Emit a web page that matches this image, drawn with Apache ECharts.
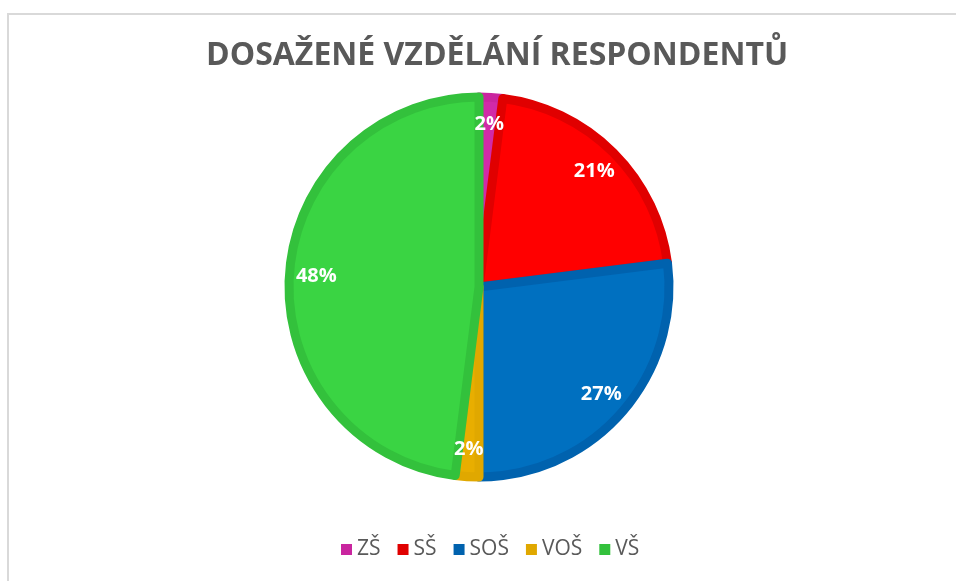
<!DOCTYPE html>
<html>
<head>
<meta charset="utf-8">
<script src="https://cdn.jsdelivr.net/npm/echarts@6/dist/echarts.min.js"></script>
<style>
  html, body { margin: 0; padding: 0; background: #fff; overflow: hidden; }
  #main { width: 956px; height: 581px; position: relative; }
  /* rámeček grafu jako v Excelu */
  .frame {
    position: absolute; left: 7px; top: 13px; width: 980px; height: 600px;
    border: 2px solid #d9d9d9; box-sizing: border-box; pointer-events: none;
  }
</style>
</head>
<body>
<div id="main"></div>
<div class="frame"></div>
<script>
// data
var categories = ["ZŠ", "SŠ", "SOŠ", "VOŠ", "VŠ"];
var values = [2, 21, 27, 2, 48];
var fillColors = ["#d12aa8", "#ff0000", "#0070c0", "#e8ae00", "#3ad443"];
var edgeColors = ["#c9259f", "#e00000", "#0062ae", "#e0a800", "#33c13c"];

var myChart = echarts.init(document.getElementById("main"));

var pieData = categories.map(function (name, i) {
  return {
    name: name,
    value: values[i],
    itemStyle: { color: fillColors[i], borderColor: edgeColors[i] }
  };
});

var labelData = categories.map(function (name, i) {
  return { name: name, value: values[i] };
});

var option = {
  animation: false,
  title: {
    text: "DOSAŽENÉ VZDĚLÁNÍ RESPONDENTŮ",
    left: 201,
    top: 35,
    textStyle: {
      fontFamily: "Open Sans",
      fontWeight: "bold",
      fontSize: 32,
      color: "#595959"
    }
  },
  legend: {
    bottom: 16,
    left: 336,
    icon: "rect",
    itemWidth: 11,
    itemHeight: 11,
    itemGap: 17,
    textStyle: { fontFamily: "Open Sans", fontSize: 21, color: "#595959" },
    data: categories.map(function (name, i) {
      return { name: name, itemStyle: { color: edgeColors[i], borderWidth: 0 } };
    })
  },
  series: [
    {
      type: "pie",
      center: [479, 287],
      radius: [0, 190],
      startAngle: 90,
      clockwise: true,
      silent: true,
      label: { show: false },
      labelLine: { show: false },
      itemStyle: { borderWidth: 9 },
      data: pieData
    },
    {
      // jen popisky procent
      type: "pie",
      center: [479, 287],
      radius: [126, 194],
      startAngle: 90,
      clockwise: true,
      silent: true,
      itemStyle: { color: "transparent" },
      label: {
        show: true,
        position: "inside",
        formatter: "{d}%",
        fontFamily: "Open Sans",
        fontWeight: "bold",
        fontSize: 20,
        color: "#fff"
      },
      labelLine: { show: false },
      data: labelData
    }
  ]
};

myChart.setOption(option);
</script>
</body>
</html>
